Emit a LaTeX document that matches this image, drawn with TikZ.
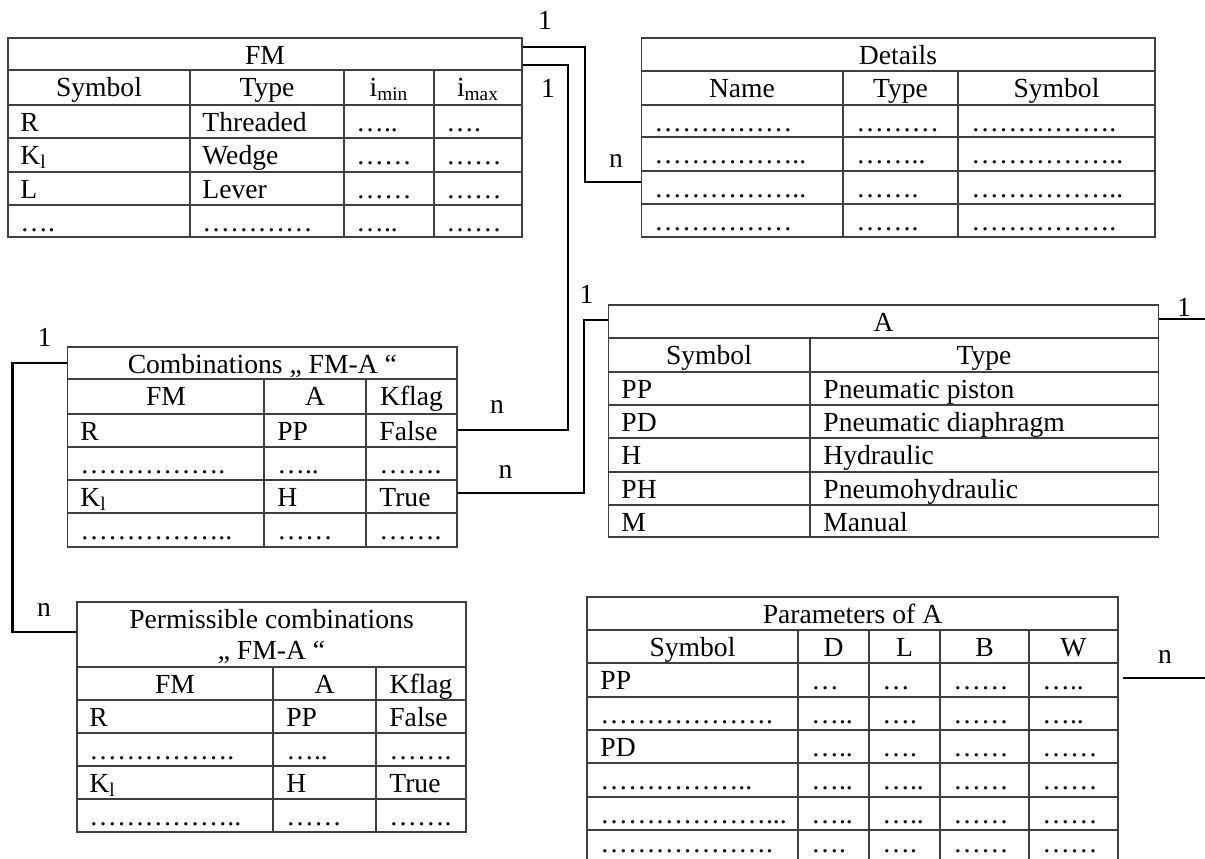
\documentclass[tikz,border=0pt]{standalone}
\usepackage{fontspec}
\setmainfont{Liberation Serif}
\usetikzlibrary{fit}

\tikzset{
  tblline/.style={line width=0.7pt, draw=black!75},
  tblframe/.style={tblline, rectangle, inner sep=0pt},
  conn/.style={line width=1.3pt, draw=black},
  cell/.style={anchor=base west, inner sep=0pt},
  head/.style={anchor=base, inner sep=0pt},
  card/.style={anchor=center, inner sep=0pt},
}

% outer frame of a table as a named node: name, x1, y1, x2, y2
\newcommand\tableframe[5]{%
  \coordinate (#1-a) at (#2,#3);
  \coordinate (#1-b) at (#4,#5);
  \node[tblframe, fit=(#1-a)(#1-b)] (#1) {};}

% one row of left aligned cells: name prefix, baseline, list of x/text
\newcommand\trow[3]{%
  \foreach \cx/\ct [count=\ci] in {#3} \node[cell] (#1c\ci) at (\cx,#2) {\ct};}

\begin{document}
\begin{tikzpicture}[x=0.5pt, y=-0.5pt, font=\fontsize{13.8}{16}\selectfont]
\useasboundingbox (0,0) rectangle (1205,858);
\clip (0,0) rectangle (1205,858);

% ---------- FM ----------
\tableframe{fm}{8}{38}{522}{237}
\foreach \yy in {70,105,138,172,205} \draw[tblline] (8,\yy) -- (522,\yy);
\foreach \xx in {190,344,434} \draw[tblline] (\xx,70) -- (\xx,237);
\node[head] (fm-title) at (265,64) {FM};
\node[head] (fm-h1) at (99,96) {Symbol};
\node[head] (fm-h2) at (267,96) {Type};
\node[head] (fm-h3) at (389,96) {i\textsubscript{min}};
\node[head] (fm-h4) at (478,96) {i\textsubscript{max}};
\trow{fm-r1}{131}{20/R, 202/Threaded, 356/….., 446/….}
\trow{fm-r2}{164}{20/K\textsubscript{l}, 202/Wedge, 356/……, 446/……}
\trow{fm-r3}{198}{20/L, 202/Lever, 356/……, 446/……}
\trow{fm-r4}{231}{20/…., 202/…………, 356/….., 446/……}

% ---------- Details ----------
\tableframe{det}{641.5}{38}{1155}{237}
\foreach \yy in {71,105,137,171,204} \draw[tblline] (641.5,\yy) -- (1155,\yy);
\foreach \xx in {843,958} \draw[tblline] (\xx,71) -- (\xx,237);
\node[head] (det-title) at (898,64) {Details};
\node[head] (det-h1) at (742,97) {Name};
\node[head] (det-h2) at (900.5,97) {Type};
\node[head] (det-h3) at (1056.5,97) {Symbol};
\trow{det-r1}{131}{654/……………, 856/………, 971/…………….}
\trow{det-r2}{163}{654/…………….., 856/…….., 971/……………..}
\trow{det-r3}{197}{654/…………….., 856/……., 971/……………..}
\trow{det-r4}{230}{654/……………, 856/……., 971/…………….}

% ---------- Combinations FM-A ----------
\tableframe{comb}{67.7}{347}{457}{547}
\foreach \yy in {379,414,447,480,513} \draw[tblline] (67.7,\yy) -- (457,\yy);
\foreach \xx in {264,366} \draw[tblline] (\xx,379) -- (\xx,547);
\node[head] (comb-title) at (262.3,373) {Combinations „ FM-A “};
\node[head] (comb-h1) at (166,405) {FM};
\node[head] (comb-h2) at (315,405) {A};
\node[head] (comb-h3) at (411.5,405) {Kflag};
\trow{comb-r1}{440}{80/R, 277/PP, 379/False}
\trow{comb-r2}{473}{80/……………., 277/….., 379/…….}
\trow{comb-r3}{506}{80/K\textsubscript{l}, 277/H, 379/True}
\trow{comb-r4}{539}{80/…………….., 277/……, 379/…….}

% ---------- Permissible combinations FM-A ----------
\tableframe{perm}{77}{602}{466}{832}
\foreach \yy in {667,700,733,766,799} \draw[tblline] (77,\yy) -- (466,\yy);
\foreach \xx in {273,376} \draw[tblline] (\xx,667) -- (\xx,832);
\node[head] (perm-title1) at (271.5,628) {Permissible combinations};
\node[head] (perm-title2) at (271.5,659) {„ FM-A “};
\node[head] (perm-h1) at (175,693) {FM};
\node[head] (perm-h2) at (324.5,693) {A};
\node[head] (perm-h3) at (421,693) {Kflag};
\trow{perm-r1}{726}{89/R, 286/PP, 389/False}
\trow{perm-r2}{759}{89/……………., 286/….., 389/…….}
\trow{perm-r3}{792}{89/K\textsubscript{l}, 286/H, 389/True}
\trow{perm-r4}{825}{89/…………….., 286/……, 389/…….}

% ---------- A ----------
\tableframe{atab}{608.6}{305}{1158.5}{537}
\foreach \yy in {338,372,405,438,472,505} \draw[tblline] (608.6,\yy) -- (1158.5,\yy);
\draw[tblline] (810,338) -- (810,537);
\node[head] (atab-title) at (883.5,331) {A};
\node[head] (atab-h1) at (709,364) {Symbol};
\node[head] (atab-h2) at (984,364) {Type};
\trow{atab-r1}{398}{621/PP, 823/Pneumatic piston}
\trow{atab-r2}{431}{621/PD, 823/Pneumatic diaphragm}
\trow{atab-r3}{464}{621/H, 823/Hydraulic}
\trow{atab-r4}{498}{621/PH, 823/Pneumohydraulic}
\trow{atab-r5}{531}{621/M, 823/Manual}

% ---------- Parameters of A ----------
\tableframe{par}{587}{597}{1118}{866}
\foreach \yy in {630,663,697,730,763,797,830} \draw[tblline] (587,\yy) -- (1118,\yy);
\foreach \xx in {798,869,940,1029} \draw[tblline] (\xx,630) -- (\xx,866);
\node[head] (par-title) at (852.5,623) {Parameters of A};
\node[head] (par-h1) at (692.5,656) {Symbol};
\node[head] (par-h2) at (833.5,656) {D};
\node[head] (par-h3) at (904.5,656) {L};
\node[head] (par-h4) at (984.5,656) {B};
\node[head] (par-h5) at (1073.5,656) {W};
\trow{par-r1}{689}{600/PP, 811/…, 882/…, 953/……, 1042/…..}
\trow{par-r2}{723}{600/………………., 811/….., 882/…., 953/……, 1042/…..}
\trow{par-r3}{756}{600/PD, 811/….., 882/…., 953/……, 1042/……}
\trow{par-r4}{789}{600/…………….., 811/….., 882/….., 953/……, 1042/……}
\trow{par-r5}{823}{600/………………..{}., 811/….., 882/….., 953/……, 1042/……}
\trow{par-r6}{852}{600/………………., 811/…., 882/…., 953/……, 1042/……}

% ---------- connectors ----------
\coordinate (k1a) at (0,47);    \coordinate (k1b) at (585,182);
\coordinate (k2a) at (0,65);    \coordinate (k2b) at (568,430);
\coordinate (k3a) at (0,493);   \coordinate (k3b) at (584,320);
\coordinate (k4a) at (0,363);   \coordinate (k4b) at (12.5,632);
\coordinate (k5) at (1205,319);
\coordinate (k6) at (1205,678);

\draw[conn] (fm.east |- k1a) -| (k1b) -- (det.west |- k1b);
\draw[conn] (fm.east |- k2a) -| (k2b) -- (comb.east |- k2b);
\draw[conn] (comb.east |- k3a) -| (k3b) -- (atab.west |- k3b);
\draw[conn] (comb.west |- k4a) -| (k4b) -- (perm.west |- k4b);
\draw[conn] (atab.east |- k5) -- (k5);
\draw[conn, shorten <=2pt] (par.east |- k6) -- (k6);

% ---------- cardinalities ----------
\node[card] (m1) at (545,20) {1};
\node[card] (m2) at (548,88.5) {1};
\node[card] (m3) at (616,161) {n};
\node[card] (m4) at (497,407) {n};
\node[card] (m5) at (505.5,472) {n};
\node[card] (m6) at (586.5,294) {1};
\node[card] (m7) at (44.5,337.5) {1};
\node[card] (m8) at (44,609.5) {n};
\node[card] (m9) at (1184,307) {1};
\node[card] (m10) at (1165,657) {n};
\end{tikzpicture}
\end{document}
